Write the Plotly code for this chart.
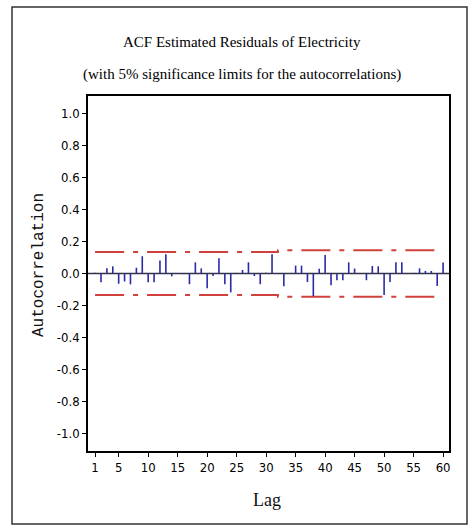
import plotly.graph_objects as go

# Autocorrelations of the estimated residuals, lags 1..60
lags = list(range(1, 61))
acf_values = [
    0.004, -0.054, 0.033, 0.045, -0.064, -0.050, -0.068, 0.036, 0.108, -0.054,
    -0.054, 0.081, 0.120, -0.018, 0.003, -0.004, -0.067, 0.070, 0.032, -0.092,
    -0.015, 0.095, -0.067, -0.118, 0.004, 0.022, 0.070, -0.016, -0.067, 0.004,
    0.120, -0.003, -0.080, 0.003, 0.049, 0.049, -0.053, -0.141, 0.030, 0.116,
    -0.074, -0.042, -0.042, 0.070, 0.031, 0.003, -0.042, 0.047, 0.045, -0.135,
    -0.053, 0.070, 0.070, -0.003, 0.004, 0.032, 0.016, 0.016, -0.078, 0.069,
]
# 5% significance limits (widen after the large lag-31 spike)
sig_limit = [0.134] * 31 + [0.145] * 29

x_tickvals = [1, 5, 10, 15, 20, 25, 30, 35, 40, 45, 50, 55, 60]
x_ticktext = ["1", "5", "10", "15", "20", "25", "30", "35", "40", "45", "50", "55", "60"]
y_tickvals = [-1.0, -0.8, -0.6, -0.4, -0.2, 0.0, 0.2, 0.4, 0.6, 0.8, 1.0]
y_ticktext = ["-1.0", "-0.8", "-0.6", "-0.4", "-0.2", "0.0", "0.2", "0.4", "0.6", "0.8", "1.0"]

W, H = 473, 531
ML, MR, MT, MB = 88, 24, 96, 80
PW, PH = W - ML - MR, H - MT - MB


def px_x(p):
    return (p - ML) / PW


def px_y(p):
    return (H - MB - p) / PH


# vertical spikes from zero to each autocorrelation
spike_x, spike_y = [], []
for k, v in zip(lags, acf_values):
    spike_x += [k, k, None]
    spike_y += [0, v, None]

fig = go.Figure()

limit_style = dict(color="#d0403c", width=2, dash="29px,9px,5px,9px")
fig.add_trace(go.Scatter(x=lags, y=sig_limit, mode="lines", line=limit_style,
                         line_shape="hv", hoverinfo="skip", showlegend=False))
fig.add_trace(go.Scatter(x=lags, y=[-v for v in sig_limit], mode="lines", line=limit_style,
                         line_shape="hv", hoverinfo="skip", showlegend=False))
fig.add_trace(go.Scatter(x=spike_x, y=spike_y, mode="lines",
                         line=dict(color="#2a2aa8", width=1.6),
                         showlegend=False))

tick_font = dict(family="Liberation Sans Narrow, DejaVu Sans Condensed, Arial Narrow, sans-serif",
                 size=13, color="#000000")

fig.update_layout(
    width=W, height=H,
    margin=dict(l=ML, r=MR, t=MT, b=MB),
    paper_bgcolor="white", plot_bgcolor="white",
    xaxis=dict(range=[-0.2, 61], tickvals=x_tickvals, ticktext=x_ticktext,
               showgrid=False, zeroline=False, showline=True, mirror=True,
               linecolor="black", linewidth=1.5, ticks="outside", ticklen=4,
               tickcolor="black", tickfont=tick_font),
    yaxis=dict(range=[-1.11, 1.11], tickvals=y_tickvals, ticktext=y_ticktext,
               showgrid=False, zeroline=False, showline=True, mirror=True,
               linecolor="black", linewidth=1.5, ticks="outside", ticklen=4,
               tickcolor="black", tickfont=tick_font),
    shapes=[
        # reference line at zero
        dict(type="line", xref="paper", yref="y", x0=0, x1=1, y0=0, y1=0,
             line=dict(color="#333344", width=1.5), layer="below"),
        # outer frame
        dict(type="rect", xref="paper", yref="paper",
             x0=px_x(12), x1=px_x(467), y0=px_y(524), y1=px_y(7),
             line=dict(color="#333333", width=1.5), layer="below"),
    ],
    annotations=[
        dict(text="ACF Estimated Residuals of Electricity", xref="paper", yref="paper",
             x=px_x(242), y=px_y(42), showarrow=False, xanchor="center", yanchor="middle",
             font=dict(family="Liberation Serif, serif", size=15, color="black")),
        dict(text="(with 5% significance limits for the autocorrelations)",
             xref="paper", yref="paper",
             x=px_x(242), y=px_y(74), showarrow=False, xanchor="center", yanchor="middle",
             font=dict(family="Liberation Serif, serif", size=15, color="black")),
        dict(text="Autocorrelation", xref="paper", yref="paper",
             x=px_x(39), y=px_y(265), showarrow=False, textangle=-90,
             xanchor="center", yanchor="middle",
             font=dict(family="Liberation Mono, monospace", size=16, color="#111111")),
        dict(text="Lag", xref="paper", yref="paper",
             x=px_x(267), y=px_y(500), showarrow=False, xanchor="center", yanchor="middle",
             font=dict(family="Liberation Serif, serif", size=18, color="#111111")),
    ],
)

fig.write_html("out.html")
